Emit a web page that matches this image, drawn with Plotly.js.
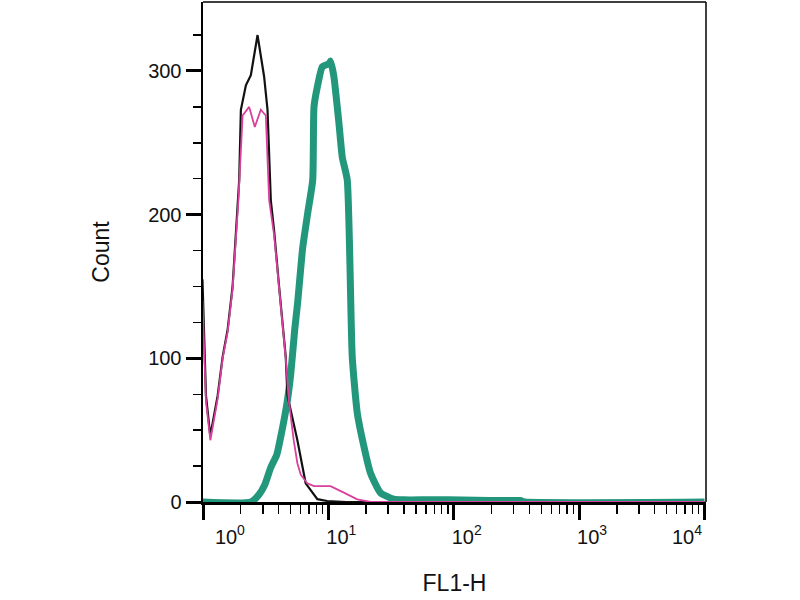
<!DOCTYPE html>
<html>
<head>
<meta charset="utf-8">
<script src="https://cdn.plot.ly/plotly-3.0.1.min.js"></script>
<style>
  html, body { margin: 0; padding: 0; background: #fff; }
  #chart { width: 800px; height: 600px; }
</style>
</head>
<body>
<div id="chart"></div>
<script>
// Flow-cytometry overlay: FL1-H histograms.
// x = FL1-H (log axis), y = Count.

const blackX = [0.99, 1.056, 1.143, 1.309, 1.434, 1.572, 1.722, 1.909, 1.944, 2.005, 2.198, 2.408, 2.54, 2.723,
  3.073, 3.27, 3.474, 3.69, 4.045, 4.57, 4.717, 5.66, 6.59, 8.17, 9.81, 14, 10000];
const blackY = [155, 74, 46, 74, 101, 120, 150, 210, 224, 273, 290, 297, 309, 325,
  296, 273, 210, 189, 150, 101, 74, 43, 13, 2, 0.7, 0, 0];

const pinkX = [0.99, 1.056, 1.145, 1.31, 1.434, 1.57, 1.72, 1.91, 2.07, 2.335, 2.59, 2.89, 3.17, 3.37,
  3.69, 4.045, 4.57, 4.83, 5.29, 5.66, 6.02, 6.79, 7.68, 9.0, 10.4, 13.3, 17.0, 21.7, 10000];
const pinkY = [140, 70, 43, 72, 100, 118, 148, 208, 269, 275, 261, 273, 269, 210,
  186, 148, 100, 71, 43, 27, 19, 13, 11, 11, 11, 6.5, 1.9, 0, 0];

const tealX = [0.99, 2.41, 2.79, 3.11, 3.47, 3.88, 4.25, 4.66, 5.01, 5.39, 5.69, 6.24, 6.84, 7.5, 7.68, 8.17,
  8.95, 10.1, 10.42, 11.07, 12.13, 12.91, 14.15, 15.5, 17.0, 19.17, 21.7, 26.0, 33.2,
  40, 60, 90, 150, 250, 340, 370, 10000];
const tealY = [0, 0, 5, 12, 24, 33, 49, 68, 89, 120, 139, 177, 201, 224, 275, 289,
  303, 305, 307, 296, 264, 240, 224, 101, 62, 39, 20, 6.5, 2,
  1.5, 1.5, 1.5, 1.2, 1, 1, 0, 0];

const yTicks = [0, 100, 200, 300];
const xTicks = [1, 10, 100, 1000, 10000];
// end labels sit inside the frame in the original, padded with no-break spaces
const NB = "\u00A0";
const xTickText = [
  NB.repeat(5) + "10<sup>0</sup>",
  "10<sup>1</sup>",
  "10<sup>2</sup>",
  "10<sup>3</sup>",
  "10<sup>4</sup>" + NB.repeat(11),
];

const FONT = "Liberation Sans, Arial, sans-serif";
const INK = "#111";

const traces = [
  {
    x: tealX, y: tealY, type: "scatter", mode: "lines",
    line: { color: "#23977b", width: 7, shape: "spline", smoothing: 0.5 },
    hoverinfo: "skip",
  },
  {
    x: blackX, y: blackY, type: "scatter", mode: "lines",
    line: { color: "#111111", width: 2.2 },
    hoverinfo: "skip",
  },
  {
    x: pinkX, y: pinkY, type: "scatter", mode: "lines",
    line: { color: "#d8409c", width: 1.8 },
    hoverinfo: "skip",
  },
];

const layout = {
  width: 800,
  height: 600,
  margin: { l: 203, r: 94, t: 2, b: 98 },
  paper_bgcolor: "#ffffff",
  plot_bgcolor: "#ffffff",
  showlegend: false,
  font: { family: FONT, color: INK, size: 20 },
  xaxis: {
    type: "log",
    range: [0, 4.012],
    tickmode: "array",
    tickvals: xTicks,
    ticktext: xTickText,
    ticks: "outside",
    ticklen: 15,
    tickwidth: 3,
    tickcolor: "#000",
    ticklabelshift: 13,
    showline: true,
    linewidth: 2.5,
    linecolor: "#000",
    showgrid: false,
    zeroline: false,
    minor: { ticks: "outside", ticklen: 9, tickwidth: 1.4, tickcolor: "#000", dtick: "D1", showgrid: false },
    tickfont: { size: 20, color: INK },
    title: { text: "FL1-H", font: { size: 23, color: INK }, standoff: 29 },
  },
  yaxis: {
    range: [0, 348],
    tickmode: "array",
    tickvals: yTicks,
    ticks: "outside",
    ticklen: 15,
    tickwidth: 3,
    tickcolor: "#000",
    showline: true,
    linewidth: 2.5,
    linecolor: "#000",
    showgrid: false,
    zeroline: false,
    minor: { ticks: "outside", ticklen: 8, tickwidth: 1.4, tickcolor: "#000", dtick: 25, showgrid: false },
    tickfont: { size: 20, color: INK },
    title: { text: "Count", font: { size: 23, color: INK }, standoff: 32 },
  },
  shapes: [
    { type: "line", xref: "paper", yref: "paper", x0: 0, x1: 1, y0: 1, y1: 1, line: { color: "#000", width: 1.5 } },
    { type: "line", xref: "paper", yref: "paper", x0: 1, x1: 1, y0: 0, y1: 1, line: { color: "#000", width: 1.5 } },
  ],
};

Plotly.newPlot("chart", traces, layout, { staticPlot: true, displayModeBar: false });
</script>
</body>
</html>
